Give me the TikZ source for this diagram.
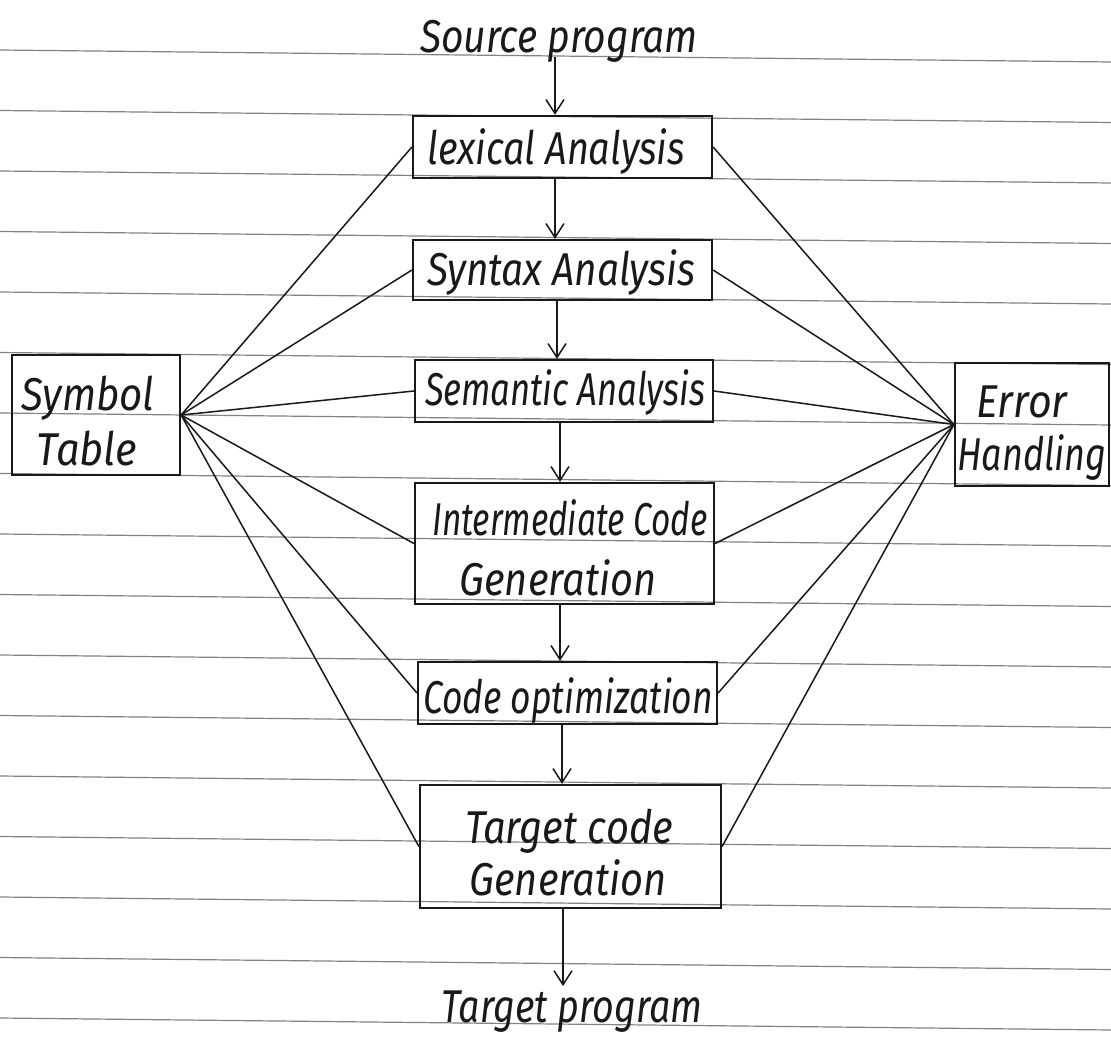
\documentclass[tikz,border=0pt]{standalone}
\usepackage{fontspec}
\usetikzlibrary{arrows.meta,calc}
\newfontfamily\handfont{Fira Sans}
% text set in a slanted face and stretched to a given width (in pt)
\newcommand\handtext[2]{\resizebox{#1pt}{\height}{\handfont\itshape\fontsize{46}{52}\selectfont #2}}
\definecolor{ink}{RGB}{25,25,25}
\definecolor{rulegray}{RGB}{130,130,130}
\begin{document}
\begin{tikzpicture}[x=1pt,y=-1pt,
  stage/.style={draw=ink,line width=2.2pt,rectangle,inner sep=0pt},
  txt/.style={anchor=base,inner sep=0pt,text=ink},
  link/.style={draw=ink,line width=1.5pt},
  arr/.style={draw=ink,line width=1.5pt,-{Straight Barb[length=14pt,width=18pt]}},
  ruled/.style={draw=rulegray,line width=1.2pt}]

\fill[white] (0,0) rectangle (1111,1051);
\useasboundingbox (0,0) rectangle (1111,1051);

% ruled paper
\foreach \k in {0,...,16}
  \draw[ruled] (0,{50+60.5*\k}) -- (1111,{62+60.5*\k});

% compiler phases
\node[stage,minimum width=299pt,minimum height=62pt]  (lex) at (562.5,147)   {};
\node[stage,minimum width=299pt,minimum height=60pt]  (syn) at (562.5,270)   {};
\node[stage,minimum width=298pt,minimum height=62pt]  (sem) at (564,391)     {};
\node[stage,minimum width=299pt,minimum height=121pt] (int) at (564.5,543.5) {};
\node[stage,minimum width=299pt,minimum height=62pt]  (opt) at (567.5,693)   {};
\node[stage,minimum width=301pt,minimum height=123pt] (tgt) at (570.5,846.5) {};
% side tables
\node[stage,minimum width=168pt,minimum height=120pt] (sym) at (96,415)      {};
\node[stage,minimum width=154pt,minimum height=123pt] (err) at (1032,424.5)  {};

% labels
\node[txt] (src)   at (559,53)   {\handtext{278}{Source program}};
\node[txt] (lexT)  at (556,165)  {\handtext{257}{lexical Analysis}};
\node[txt] (synT)  at (561,285)  {\handtext{268}{Syntax Analysis}};
\node[txt] (semT)  at (565,405)  {\handtext{280}{Semantic Analysis}};
\node[txt] (intT)  at (570,535)  {\handtext{275}{Intermediate Code}};
\node[txt] (intG)  at (558,595)  {\handtext{197}{Generation}};
\node[txt] (optT)  at (568,713)  {\handtext{290}{Code optimization}};
\node[txt] (tgtT)  at (569,843)  {\handtext{208}{Target code}};
\node[txt] (tgtG)  at (568,895)  {\handtext{197}{Generation}};
\node[txt] (tp)    at (572,1022) {\handtext{261}{Target program}};
\node[txt] (symT)  at (88,410)   {\handtext{133}{Symbol}};
\node[txt] (symB)  at (87,465)   {\handtext{100}{Table}};
\node[txt] (errT)  at (1022,417) {\handtext{91}{Error}};
\node[txt] (errB)  at (1032,470) {\handtext{149}{Handling}};

% every phase talks to the symbol table and to error handling
\foreach \b in {lex,syn,sem,int,opt,tgt} {
  \draw[link] (sym.east) -- (\b.west);
  \draw[link] (err.west) -- (\b.east);
}

% flow through the phases
\coordinate (srcfoot) at (555,57);
\draw[arr] (srcfoot) -- (srcfoot |- lex.north);
\draw[arr] ($(lex.south)+(-7.5,0)$) -- ($(lex.south |- syn.north)+(-7.5,0)$);
\draw[arr] ($(syn.south)+(-5.5,0)$) -- ($(syn.south |- sem.north)+(-5.5,0)$);
\draw[arr] ($(sem.south)+(-4,0)$)   -- ($(sem.south |- int.north)+(-4,0)$);
\draw[arr] ($(int.south)+(-4.5,0)$) -- ($(int.south |- opt.north)+(-4.5,0)$);
\draw[arr] ($(opt.south)+(-5.5,0)$) -- ($(opt.south |- tgt.north)+(-5.5,0)$);
\draw[arr] ($(tgt.south)+(-7.5,0)$) -- ($(tgt.south |- tp.north)+(-7.5,-4)$);
\end{tikzpicture}
\end{document}
